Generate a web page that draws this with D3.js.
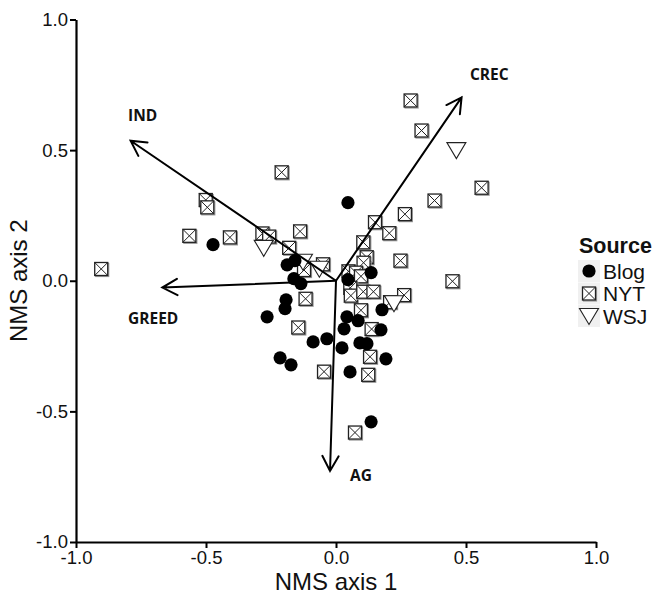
<!DOCTYPE html>
<html>
<head>
<meta charset="utf-8">
<script src="https://cdn.jsdelivr.net/npm/d3@7"></script>
<style>
  body { margin: 0; background: #fff; }
</style>
</head>
<body>
<div class="container"></div>
<script>
// NMS scores, [axis1, axis2]
const blogPoints = [
  [0.046, 0.299], [-0.473, 0.138], [-0.188, 0.061], [-0.158, 0.077], [-0.162, 0.008],
  [-0.135, -0.011], [0.046, 0.004], [0.135, 0.031], [-0.192, -0.073], [-0.196, -0.107],
  [-0.265, -0.138], [0.177, -0.111], [0.042, -0.138], [0.085, -0.153], [0.031, -0.184],
  [0.173, -0.188], [-0.088, -0.234], [-0.035, -0.222], [0.023, -0.257], [0.092, -0.238],
  [0.119, -0.241], [0.192, -0.299], [-0.215, -0.295], [-0.173, -0.322], [0.054, -0.349],
  [0.135, -0.540]
];
const nytPoints = [
  [-0.903, 0.045], [-0.501, 0.309], [-0.495, 0.281], [-0.564, 0.172], [-0.408, 0.166],
  [-0.209, 0.415], [-0.283, 0.181], [-0.257, 0.169], [-0.138, 0.189], [-0.180, 0.126],
  [-0.123, 0.041], [-0.050, 0.063], [-0.117, -0.069], [-0.145, -0.179], [-0.046, -0.348],
  [0.287, 0.690], [0.329, 0.575], [0.560, 0.356], [0.379, 0.307], [0.265, 0.255],
  [0.150, 0.224], [0.205, 0.182], [0.105, 0.147], [0.248, 0.077], [0.118, 0.090],
  [0.106, 0.069], [0.448, -0.002], [0.048, 0.036], [0.077, 0.031], [0.096, 0.017],
  [0.055, -0.027], [0.057, -0.057], [0.105, -0.042], [0.144, -0.042], [0.208, -0.082],
  [0.262, -0.055], [0.096, -0.113], [0.137, -0.185], [0.131, -0.291], [0.124, -0.360],
  [0.073, -0.581]
];
const wsjPoints = [
  [-0.278, 0.126], [0.463, 0.500], [-0.127, 0.073], [-0.064, 0.046], [0.223, -0.086]
];

// joint plot vectors
const vectorNames = ["IND", "CREC", "GREED", "AG"];
const vectorX = [-0.79, 0.483, -0.668, -0.023];
const vectorY = [0.536, 0.702, -0.026, -0.728];
const labelX = [-0.80, 0.515, -0.80, 0.054];
const labelY = [0.61, 0.77, -0.165, -0.766];

const xTicks = [-1.0, -0.5, 0.0, 0.5, 1.0];
const yTicks = [-1.0, -0.5, 0.0, 0.5, 1.0];
const sources = ["Blog", "NYT", "WSJ"];

const width = 657;
const height = 594;

const svg = d3.select(".container")
  .append("svg")
  .attr("width", width)
  .attr("height", height)
  .style("background", "#fff");

const x = d3.scaleLinear([-1, 1], [76, 596]);
const y = d3.scaleLinear([-1, 1], [542, 19.5]);
const fmt = (d) => d.toFixed(1);

// axes
const xAxis = svg.append("g")
  .attr("transform", `translate(0,${y(-1)})`)
  .call(d3.axisBottom(x).tickValues(xTicks).tickFormat(fmt)
    .tickSize(6).tickSizeOuter(0).tickPadding(2.5));
const yAxis = svg.append("g")
  .attr("transform", `translate(${x(-1)},0)`)
  .call(d3.axisLeft(y).tickValues(yTicks).tickFormat(fmt)
    .tickSize(6).tickSizeOuter(0).tickPadding(2));

[xAxis, yAxis].forEach((g) => {
  g.select(".domain").attr("stroke", "#000").attr("stroke-width", 2.2);
  g.selectAll(".tick line").attr("stroke", "#000").attr("stroke-width", 2);
  g.selectAll(".tick text")
    .attr("fill", "#111")
    .style("font-family", "'Liberation Sans', Arial, sans-serif")
    .style("font-size", "18.5px");
});

svg.append("text")
  .attr("x", x(0))
  .attr("y", 590)
  .attr("text-anchor", "middle")
  .style("font-family", "'Liberation Sans', Arial, sans-serif")
  .style("font-size", "24px")
  .attr("fill", "#111")
  .text("NMS axis 1");

svg.append("text")
  .attr("transform", `translate(27,${y(0)}) rotate(-90)`)
  .attr("text-anchor", "middle")
  .style("font-family", "'Liberation Sans', Arial, sans-serif")
  .style("font-size", "24px")
  .attr("fill", "#111")
  .text("NMS axis 2");

// marker drawers
const sq = 13;
function drawSquare(g) {
  g.append("rect")
    .attr("x", -sq / 2 + 1).attr("y", -sq / 2 + 1)
    .attr("width", sq).attr("height", sq)
    .attr("fill", "none").attr("stroke", "#999").attr("stroke-width", 1.2);
  g.append("rect")
    .attr("x", -sq / 2).attr("y", -sq / 2)
    .attr("width", sq).attr("height", sq)
    .attr("fill", "#fff").attr("stroke", "#222").attr("stroke-width", 1.3);
  g.append("path")
    .attr("d", `M${-sq / 2},${-sq / 2}L${sq / 2},${sq / 2}M${sq / 2},${-sq / 2}L${-sq / 2},${sq / 2}`)
    .attr("stroke", "#222").attr("stroke-width", 1);
}
function drawTriangle(g) {
  g.append("path")
    .attr("d", "M-9.5,-7.5L9.5,-7.5L0,8.5Z")
    .attr("fill", "#fff").attr("stroke", "#222").attr("stroke-width", 1.1);
}
function drawCircle(g) {
  g.append("circle").attr("r", 6.6).attr("fill", "#000");
}

// points
const pts = svg.append("g");
pts.selectAll("g.nyt")
  .data(nytPoints)
  .join("g")
  .attr("class", "nyt")
  .attr("transform", (d) => `translate(${x(d[0])},${y(d[1])})`)
  .each(function () { drawSquare(d3.select(this)); });

pts.selectAll("g.wsj")
  .data(wsjPoints)
  .join("g")
  .attr("class", "wsj")
  .attr("transform", (d) => `translate(${x(d[0])},${y(d[1])})`)
  .each(function () { drawTriangle(d3.select(this)); });

pts.selectAll("circle.blog")
  .data(blogPoints)
  .join("circle")
  .attr("class", "blog")
  .attr("cx", (d) => x(d[0]))
  .attr("cy", (d) => y(d[1]))
  .attr("r", 6.6)
  .attr("fill", "#000");

// vectors with open arrowheads
const vectors = vectorNames.map((name, i) => ({
  name, vx: vectorX[i], vy: vectorY[i], lx: labelX[i], ly: labelY[i]
}));

function arrowPath(d) {
  const ox = x(0), oy = y(0);
  const tx = x(d.vx), ty = y(d.vy);
  const a = Math.atan2(oy - ty, ox - tx);
  const len = 17, spread = 0.5;
  const a1x = tx + len * Math.cos(a + spread), a1y = ty + len * Math.sin(a + spread);
  const a2x = tx + len * Math.cos(a - spread), a2y = ty + len * Math.sin(a - spread);
  return `M${ox},${oy}L${tx},${ty}M${a1x},${a1y}L${tx},${ty}L${a2x},${a2y}`;
}

const vec = svg.append("g");
vec.selectAll("path")
  .data(vectors)
  .join("path")
  .attr("d", arrowPath)
  .attr("fill", "none")
  .attr("stroke", "#000")
  .attr("stroke-width", 2)
  .attr("stroke-linecap", "round")
  .attr("stroke-linejoin", "miter");

vec.selectAll("text")
  .data(vectors)
  .join("text")
  .attr("x", (d) => x(d.lx))
  .attr("y", (d) => y(d.ly))
  .style("font-family", "'Open Sans', sans-serif")
  .style("font-weight", "bold")
  .style("font-size", "15.5px")
  .attr("fill", "#111")
  .text((d) => d.name);

// legend
const legend = svg.append("g").attr("transform", "translate(579,0)");
legend.append("text")
  .attr("x", 0)
  .attr("y", 253)
  .style("font-family", "'Liberation Sans', Arial, sans-serif")
  .style("font-weight", "bold")
  .style("font-size", "21.5px")
  .attr("fill", "#111")
  .text("Source");

const drawers = [drawCircle, drawSquare, drawTriangle];
const item = legend.selectAll("g.item")
  .data(sources)
  .join("g")
  .attr("class", "item")
  .attr("transform", (d, i) => `translate(0,${271 + i * 22.5})`);

item.append("rect")
  .attr("x", -1).attr("y", -11)
  .attr("width", 22).attr("height", 22)
  .attr("fill", "#f0f0f0");

item.each(function (d, i) {
  const g = d3.select(this).append("g").attr("transform", "translate(10,0)");
  drawers[i](g);
});

item.append("text")
  .attr("x", 24)
  .attr("y", 7.5)
  .style("font-family", "'Liberation Sans', Arial, sans-serif")
  .style("font-size", "21px")
  .attr("fill", "#111")
  .text((d) => d);
</script>
</body>
</html>
